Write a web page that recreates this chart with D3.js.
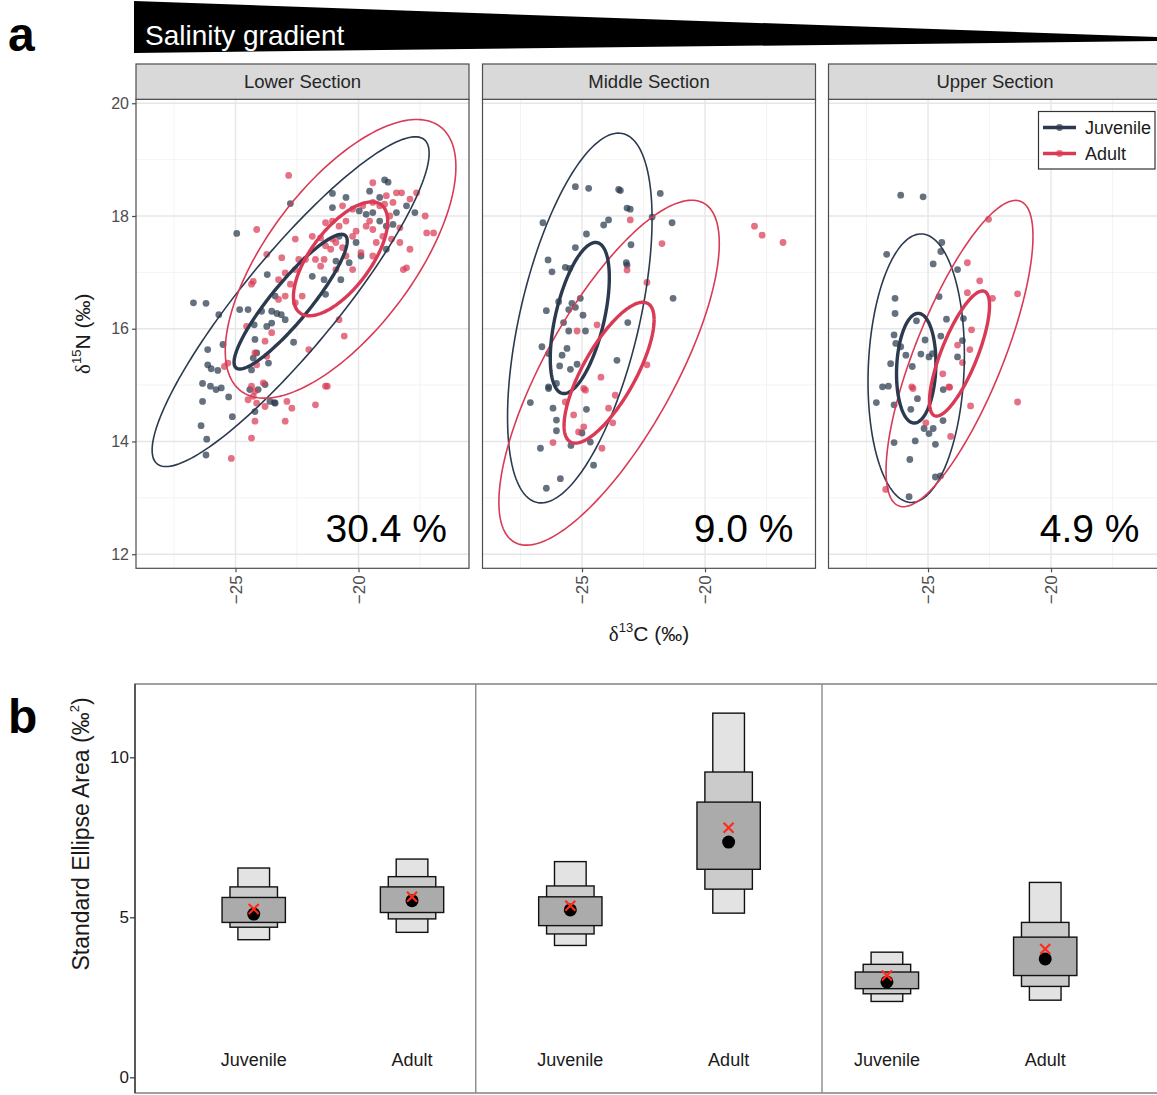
<!DOCTYPE html>
<html>
<head>
<meta charset="utf-8">
<script src="https://cdn.jsdelivr.net/npm/d3@7"></script>
<style>
  body { margin: 0; background: #fff; }
  svg { display: block; font-family: "Liberation Sans", Arial, Helvetica, sans-serif; }
</style>
</head>
<body>
<svg id="fig" width="1157" height="1095"></svg>
<script>
// ---------------- data ----------------
const sections = ["Lower Section", "Middle Section", "Upper Section"];
const groups = ["Juvenile", "Adult"];
const overlapLabels = ["30.4 %", "9.0 %", "4.9 %"];
const xTicks = [-25, -20];
const yTicks = [12, 14, 16, 18, 20];

// isotope values, [d13C, d15N]
const juvenileLower = [[-26.71,16.46],[-26.20,16.45],[-25.68,16.25],[-24.95,17.69],[-22.77,18.22],[-23.71,16.96],[-23.39,16.58],[-23.94,16.31],[-23.53,16.31],[-23.32,16.27],[-23.14,16.25],[-24.83,16.34],[-24.49,16.34],[-25.51,15.72],[-26.13,15.63],[-26.13,15.36],[-25.99,15.29],[-25.72,15.26],[-26.34,15.03],[-26.02,14.98],[-25.79,14.92],[-25.58,14.95],[-25.28,14.79],[-26.34,14.71],[-26.40,14.28],[-26.17,14.04],[-26.20,13.76],[-25.13,14.44],[-24.24,16.07],[-23.73,16.04],[-24.21,15.81],[-23.53,16.10],[-22.98,16.16],[-22.64,15.76],[-24.14,15.57],[-24.28,15.48],[-23.66,15.39],[-24.35,15.27],[-24.42,14.92],[-24.08,14.92],[-24.21,14.53],[-23.60,14.71],[-23.39,14.68],[-21.88,16.93],[-21.40,16.87],[-21.34,16.61],[-20.72,16.87],[-20.92,17.20],[-20.38,17.17],[-21.06,18.40],[-21.06,18.15],[-20.51,18.33],[-19.55,18.44],[-18.94,18.64],[-18.80,18.60],[-19.97,18.09],[-19.69,18.03],[-19.42,18.06],[-19.14,17.91],[-18.87,17.82],[-18.46,18.06],[-18.60,17.85],[-19.14,18.33],[-17.71,18.06],[-18.05,18.18],[-18.87,17.41],[-19.90,17.29],[-20.10,17.53],[-20.79,17.64],[-23.80,15.01],[-23.42,14.69]];
const adultLower = [[-22.84,18.72],[-24.14,17.76],[-23.73,17.32],[-23.12,17.26],[-22.57,17.59],[-21.88,17.64],[-21.54,17.61],[-21.34,17.47],[-21.13,17.41],[-20.92,17.53],[-20.65,17.44],[-20.24,17.64],[-20.10,17.73],[-19.69,17.82],[-19.42,17.76],[-19.28,17.53],[-19.01,17.64],[-18.66,17.59],[-18.32,17.53],[-17.91,17.41],[-18.05,17.08],[-18.18,17.05],[-17.29,18.00],[-16.95,17.70],[-17.64,18.41],[-17.91,18.30],[-18.46,18.41],[-18.60,18.24],[-18.87,18.36],[-19.14,18.18],[-19.42,18.24],[-19.83,18.18],[-20.24,18.12],[-20.65,18.18],[-21.06,17.91],[-20.79,17.82],[-21.34,17.88],[-21.75,17.23],[-21.54,17.11],[-22.16,17.23],[-22.57,17.05],[-22.98,16.99],[-23.25,16.87],[-24.28,16.84],[-24.35,16.79],[-23.25,16.52],[-22.98,16.58],[-22.57,16.46],[-23.53,15.93],[-23.80,15.78],[-23.73,15.51],[-24.21,15.57],[-24.14,15.36],[-24.35,14.98],[-24.21,14.89],[-23.87,15.04],[-24.28,14.80],[-24.49,14.74],[-24.14,14.68],[-23.80,14.62],[-22.91,14.71],[-22.71,14.59],[-21.75,14.65],[-21.34,14.98],[-22.02,15.63],[-20.58,15.87],[-20.79,16.16],[-24.21,14.36],[-24.35,14.06],[-22.98,14.36],[-25.17,13.70],[-25.31,15.39],[-25.45,15.33],[-24.55,16.04],[-21.40,17.23],[-20.51,17.29],[-19.42,17.29],[-19.90,17.35],[-20.24,17.05],[-20.92,17.05],[-21.27,14.98],[-22.43,17.23],[-22.77,16.79],[-22.29,16.58],[-21.06,17.59],[-20.51,17.91],[-19.55,17.91],[-18.73,18.00],[-18.25,18.41],[-19.42,18.59],[-18.94,18.21],[-17.23,17.70],[-18.32,17.79]];
const juvenileMiddle = [[-25.27,18.52],[-24.73,18.49],[-23.51,18.47],[-23.44,18.45],[-21.82,18.40],[-26.59,17.88],[-23.92,17.93],[-24.12,17.84],[-23.17,18.14],[-23.04,18.12],[-22.15,17.98],[-21.34,17.88],[-24.82,17.68],[-23.01,17.49],[-25.27,17.44],[-26.38,17.22],[-26.22,17.01],[-25.68,17.09],[-25.50,17.07],[-23.20,17.17],[-23.17,17.13],[-21.30,16.54],[-25.95,16.48],[-25.41,16.45],[-25.07,16.54],[-26.45,16.32],[-25.54,16.34],[-25.27,16.38],[-24.96,16.24],[-25.75,16.11],[-25.54,15.96],[-24.86,15.96],[-23.14,16.11],[-26.63,15.68],[-26.36,15.56],[-25.81,15.53],[-25.61,15.65],[-25.91,15.34],[-25.47,15.28],[-25.20,15.37],[-23.58,15.44],[-26.36,14.97],[-26.04,15.03],[-27.10,14.69],[-26.36,14.94],[-26.18,14.59],[-26.04,14.38],[-26.04,14.19],[-26.69,13.88],[-25.45,13.93],[-24.82,14.57],[-25.00,14.15],[-24.66,13.99],[-24.53,13.58],[-25.88,13.34],[-26.45,13.17]];
const adultMiddle = [[-23.04,17.93],[-21.75,17.51],[-17.99,17.82],[-17.68,17.66],[-16.83,17.53],[-23.17,17.04],[-22.36,16.82],[-25.20,15.96],[-24.39,16.07],[-24.23,15.14],[-24.93,14.94],[-22.36,15.36],[-24.86,14.91],[-25.34,14.47],[-26.18,13.98],[-25.14,14.17],[-24.93,14.26],[-23.92,14.59],[-23.75,14.33],[-23.65,14.82],[-24.19,13.88],[-25.68,14.70]];
const juvenileUpper = [[-26.11,18.37],[-25.20,18.34],[-24.44,17.53],[-24.48,17.37],[-26.68,17.32],[-24.79,17.15],[-23.80,17.05],[-26.34,16.54],[-24.55,16.57],[-26.34,16.27],[-25.47,16.14],[-24.25,16.17],[-23.56,16.18],[-24.48,15.87],[-25.12,15.80],[-26.38,15.89],[-26.31,15.74],[-26.11,15.68],[-25.90,15.53],[-25.29,15.55],[-24.96,15.50],[-24.82,15.56],[-26.52,15.38],[-25.64,15.33],[-23.60,15.79],[-23.80,15.50],[-26.85,14.97],[-26.61,14.98],[-27.10,14.69],[-26.38,14.65],[-25.70,14.57],[-25.43,14.76],[-25.16,14.23],[-24.79,14.23],[-24.96,14.14],[-24.39,14.37],[-26.38,13.98],[-25.52,14.01],[-24.70,13.95],[-25.74,13.68],[-24.70,13.37],[-24.49,13.39],[-25.77,13.02],[-24.38,14.92]];
const adultUpper = [[-22.54,17.94],[-23.40,17.17],[-22.90,16.85],[-23.40,16.64],[-22.38,16.54],[-21.36,16.62],[-23.23,15.98],[-23.80,15.71],[-23.30,15.63],[-25.66,14.97],[-24.15,14.97],[-25.61,14.94],[-24.12,14.96],[-23.27,14.63],[-21.36,14.70],[-25.09,14.33],[-24.08,14.09],[-26.72,13.15],[-23.60,15.40],[-24.40,15.20]];

const pointSets = [
  [juvenileLower, adultLower],
  [juvenileMiddle, adultMiddle],
  [juvenileUpper, adultUpper]
];

// bivariate ellipse parameters per section and group: centre, sd along each axis, correlation
const ellipseParams = [
  [{cx:-22.76, cy:16.48, sx:2.30, sy:1.195, rho:0.90}, {cx:-20.73, cy:17.24, sx:1.915, sy:1.01, rho:0.66}],
  [{cx:-25.09, cy:16.19, sx:1.20, sy:1.34, rho:0.535}, {cx:-23.90, cy:15.22, sx:1.83, sy:1.25, rho:0.75}],
  [{cx:-25.48, cy:15.30, sx:0.80, sy:0.973, rho:0.10}, {cx:-23.72, cy:15.56, sx:1.22, sy:1.11, rho:0.765}]
];
// 95% prediction ellipse (sqrt of chi-square 0.95, 2 df) and standard ellipse (1 sd)
const ellipseRadii = [2.4477, 1];

// Standard ellipse area posterior summaries (panel b)
const seaCategories = ["Juvenile", "Adult", "Juvenile", "Adult", "Juvenile", "Adult"];
const cred95 = [[4.30,6.54],[4.53,6.82],[4.12,6.74],[5.13,11.38],[2.37,3.91],[2.41,6.09]];
const cred75 = [[4.69,5.95],[4.95,6.27],[4.48,5.98],[5.88,9.54],[2.61,3.53],[2.84,4.84]];
const cred50 = [[4.84,5.62],[5.15,5.95],[4.74,5.64],[6.50,8.60],[2.77,3.29],[3.18,4.38]];
const seaModes = [5.10,5.52,5.23,7.35,2.98,3.70];
const seaML = [5.26,5.64,5.36,7.80,3.18,4.01];
const seaTicks = [0, 5, 10];

// ---------------- drawing ----------------
const svg = d3.select("#fig");
const colJuv = "#2b3a4f", colAdult = "#d93a55";
const groupColors = [colJuv, colAdult];

// panel a layout
const panelLefts = [136, 482.5, 828.5];
const panelW = 333;
const panelTop = 99.3, panelBottom = 568.3, stripTop = 64;

const x = d3.scaleLinear().domain([-29.045, -15.51]).range([0, panelW]);
const y = d3.scaleLinear().domain([11.75, 20.07]).range([panelBottom, panelTop]);

// salinity wedge banner
svg.append("polygon")
  .attr("points", [[134,1],[1157,37],[1157,41],[134,53]].map(p => p.join(",")).join(" "))
  .attr("fill", "#000");
svg.append("text").attr("x", 145).attr("y", 45).attr("fill", "#fff")
  .attr("font-size", 28).text("Salinity gradient");

svg.append("text").attr("x", 8).attr("y", 51).attr("font-size", 48).attr("font-weight", "bold").text("a");
svg.append("text").attr("x", 8).attr("y", 733).attr("font-size", 48).attr("font-weight", "bold").text("b");

function ellipsePoints(e, r) {
  const pts = [];
  const n = 180, s = Math.sqrt(1 - e.rho * e.rho);
  for (let k = 0; k <= n; k++) {
    const t = 2 * Math.PI * k / n;
    pts.push([e.cx + r * e.sx * Math.cos(t), e.cy + r * e.sy * (e.rho * Math.cos(t) + s * Math.sin(t))]);
  }
  return pts;
}
const line = d3.line().x(d => x(d[0])).y(d => y(d[1]));

sections.forEach((name, i) => {
  const g = svg.append("g").attr("transform", `translate(${panelLefts[i]},0)`);
  const clipId = "clip" + i;
  g.append("clipPath").attr("id", clipId).append("rect")
    .attr("x", 0).attr("y", panelTop).attr("width", panelW).attr("height", panelBottom - panelTop);

  g.append("rect").attr("x", 0).attr("y", panelTop).attr("width", panelW).attr("height", panelBottom - panelTop).attr("fill", "#fff");

  // grid
  const minorX = [-27.5, -22.5, -17.5], minorY = [13, 15, 17, 19];
  g.selectAll(".mnx").data(minorX).join("line").attr("x1", d => x(d)).attr("x2", d => x(d))
    .attr("y1", panelTop).attr("y2", panelBottom).attr("stroke", "#f0f0f0").attr("stroke-width", 0.8);
  g.selectAll(".mny").data(minorY).join("line").attr("y1", d => y(d)).attr("y2", d => y(d))
    .attr("x1", 0).attr("x2", panelW).attr("stroke", "#f0f0f0").attr("stroke-width", 0.8);
  g.selectAll(".mjx").data(xTicks).join("line").attr("x1", d => x(d)).attr("x2", d => x(d))
    .attr("y1", panelTop).attr("y2", panelBottom).attr("stroke", "#e6e6e6").attr("stroke-width", 1.4);
  g.selectAll(".mjy").data(yTicks).join("line").attr("y1", d => y(d)).attr("y2", d => y(d))
    .attr("x1", 0).attr("x2", panelW).attr("stroke", "#e6e6e6").attr("stroke-width", 1.4);

  const plot = g.append("g").attr("clip-path", `url(#${clipId})`);
  pointSets[i].forEach((pts, gi) => {
    plot.append("g").selectAll("circle").data(pts).join("circle")
      .attr("cx", d => x(d[0])).attr("cy", d => y(d[1])).attr("r", 3.4)
      .attr("fill", groupColors[gi]).attr("fill-opacity", 0.72);
  });
  ellipseRadii.forEach(r => {
    ellipseParams[i].forEach((e, gi) => {
      plot.append("path").attr("d", line(ellipsePoints(e, r)))
        .attr("fill", "none").attr("stroke", groupColors[gi])
        .attr("stroke-width", r === 1 ? 3.4 : 1.6);
    });
  });

  g.append("rect").attr("x", 0).attr("y", panelTop).attr("width", panelW).attr("height", panelBottom - panelTop)
    .attr("fill", "none").attr("stroke", "#4d4d4d").attr("stroke-width", 1.2);

  // strip
  g.append("rect").attr("x", 0).attr("y", stripTop).attr("width", panelW).attr("height", panelTop - stripTop)
    .attr("fill", "#d9d9d9").attr("stroke", "#4d4d4d").attr("stroke-width", 1.2);
  g.append("text").attr("x", panelW / 2).attr("y", (stripTop + panelTop) / 2).attr("dy", "0.35em")
    .attr("text-anchor", "middle").attr("font-size", 18.5).attr("fill", "#262626").text(name);

  // x axis
  const ax = g.append("g").attr("transform", `translate(0,${panelBottom})`)
    .call(d3.axisBottom(x).tickValues(xTicks).tickSize(4).tickFormat(d3.format("d")));
  ax.select(".domain").remove();
  ax.selectAll("line").attr("stroke", "#4d4d4d").attr("stroke-width", 1.2);
  ax.selectAll("text").attr("transform", "rotate(-90)").attr("text-anchor", "end")
    .attr("x", -7).attr("y", 0).attr("dy", "0.35em")
    .attr("font-size", 17).attr("fill", "#4d4d4d").attr("font-family", "Liberation Sans, Arial, sans-serif");

  // overlap annotation
  g.append("text").attr("x", panelW - 22).attr("y", 542).attr("text-anchor", "end")
    .attr("font-size", 39).attr("fill", "#000").text(overlapLabels[i]);
});

// y axis on first panel
const ay = svg.append("g").attr("transform", `translate(${panelLefts[0]},0)`)
  .call(d3.axisLeft(y).tickValues(yTicks).tickSize(4));
ay.select(".domain").remove();
ay.selectAll("line").attr("stroke", "#4d4d4d").attr("stroke-width", 1.2);
ay.selectAll("text").attr("font-size", 16).attr("fill", "#4d4d4d").attr("x", -7)
  .attr("font-family", "Liberation Sans, Arial, sans-serif");

// axis titles
const xt = svg.append("text").attr("x", panelLefts[1] + panelW / 2).attr("y", 641)
  .attr("text-anchor", "middle").attr("font-size", 21).attr("fill", "#1a1a1a");
xt.append("tspan").attr("font-family", "Liberation Serif, serif").text("δ");
xt.append("tspan").attr("font-size", 13).attr("dy", -9).text("13");
xt.append("tspan").attr("dy", 9).text("C (‰)");

const yt = svg.append("text").attr("transform", `translate(90,${(panelTop + panelBottom) / 2}) rotate(-90)`)
  .attr("text-anchor", "middle").attr("font-size", 21).attr("fill", "#1a1a1a");
yt.append("tspan").attr("font-family", "Liberation Serif, serif").text("δ");
yt.append("tspan").attr("font-size", 13).attr("dy", -9).text("15");
yt.append("tspan").attr("dy", 9).text("N (‰)");

// legend
const lg = svg.append("g");
lg.append("rect").attr("x", 1038.5).attr("y", 111.5).attr("width", 116.5).attr("height", 57.5)
  .attr("fill", "#fff").attr("stroke", "#333").attr("stroke-width", 1.2);
groups.forEach((name, gi) => {
  const yy = 127.5 + gi * 26;
  lg.append("line").attr("x1", 1043).attr("x2", 1076).attr("y1", yy).attr("y2", yy)
    .attr("stroke", groupColors[gi]).attr("stroke-width", 3.4);
  lg.append("circle").attr("cx", 1059.5).attr("cy", yy).attr("r", 3.4)
    .attr("fill", groupColors[gi]).attr("fill-opacity", 0.72);
  lg.append("text").attr("x", 1085).attr("y", yy).attr("dy", "0.35em").attr("font-size", 18)
    .attr("fill", "#1a1a1a").text(name);
});

// ---------------- panel b ----------------
const bLeft = 135, bTop = 684, bBottom = 1093;
const xb = d3.scaleLinear().domain([0.25, 6.75]).range([bLeft, bLeft + 6.5 * 158.3]);
const yb = d3.scaleLinear().domain([0, 10]).range([1077.3, 757.3]);

svg.append("rect").attr("x", bLeft).attr("y", bTop).attr("width", 1200).attr("height", bBottom - bTop)
  .attr("fill", "none").attr("stroke", "#6e6e6e").attr("stroke-width", 1.3);
// section dividers aligned with the facet gaps above
const dividerX = [0, 1].map(i => (panelLefts[i] + panelW + panelLefts[i + 1]) / 2);
svg.selectAll(".div").data(dividerX).join("line").attr("x1", d => d).attr("x2", d => d)
  .attr("y1", bTop).attr("y2", bBottom).attr("stroke", "#8a8a8a").attr("stroke-width", 1.4);
svg.append("line").attr("x1", bLeft).attr("x2", bLeft).attr("y1", bTop).attr("y2", bBottom)
  .attr("stroke", "#333").attr("stroke-width", 1.3);

const ayb = svg.append("g").attr("transform", `translate(${bLeft},0)`)
  .call(d3.axisLeft(yb).tickValues(seaTicks).tickSize(5));
ayb.select(".domain").remove();
ayb.selectAll("line").attr("stroke", "#333").attr("stroke-width", 1.2);
ayb.selectAll("text").attr("font-size", 17).attr("fill", "#1a1a1a").attr("x", -6)
  .attr("font-family", "Liberation Sans, Arial, sans-serif");

const ybt = svg.append("text").attr("transform", `translate(89,834) rotate(-90)`)
  .attr("text-anchor", "middle").attr("font-size", 23).attr("fill", "#1a1a1a");
ybt.append("tspan").text("Standard Ellipse Area (‰");
ybt.append("tspan").attr("font-size", 13).attr("dy", -10).text("2");
ybt.append("tspan").attr("dy", 10).text(")");

const boxLevels = [
  {data: cred95, half: 0.1, fill: "#e3e3e3"},
  {data: cred75, half: 0.15, fill: "#cbcbcb"},
  {data: cred50, half: 0.2, fill: "#ababab"}
];
seaCategories.forEach((cat, i) => {
  const c = i + 1;
  boxLevels.forEach(lv => {
    const [lo, hi] = lv.data[i];
    svg.append("rect").attr("x", xb(c - lv.half)).attr("y", yb(hi))
      .attr("width", xb(c + lv.half) - xb(c - lv.half)).attr("height", yb(lo) - yb(hi))
      .attr("fill", lv.fill).attr("stroke", "#111").attr("stroke-width", 1.4);
  });
  svg.append("circle").attr("cx", xb(c)).attr("cy", yb(seaModes[i])).attr("r", 6.5).attr("fill", "#000");
  const mx = xb(c), my = yb(seaML[i]), s = 5;
  svg.append("path").attr("d", `M${mx - s},${my - s}L${mx + s},${my + s}M${mx - s},${my + s}L${mx + s},${my - s}`)
    .attr("stroke", "#ff2a1a").attr("stroke-width", 2.2).attr("fill", "none");
  svg.append("text").attr("x", xb(c)).attr("y", 1066).attr("text-anchor", "middle")
    .attr("font-size", 18).attr("fill", "#1a1a1a").text(cat);
});
</script>
</body>
</html>
